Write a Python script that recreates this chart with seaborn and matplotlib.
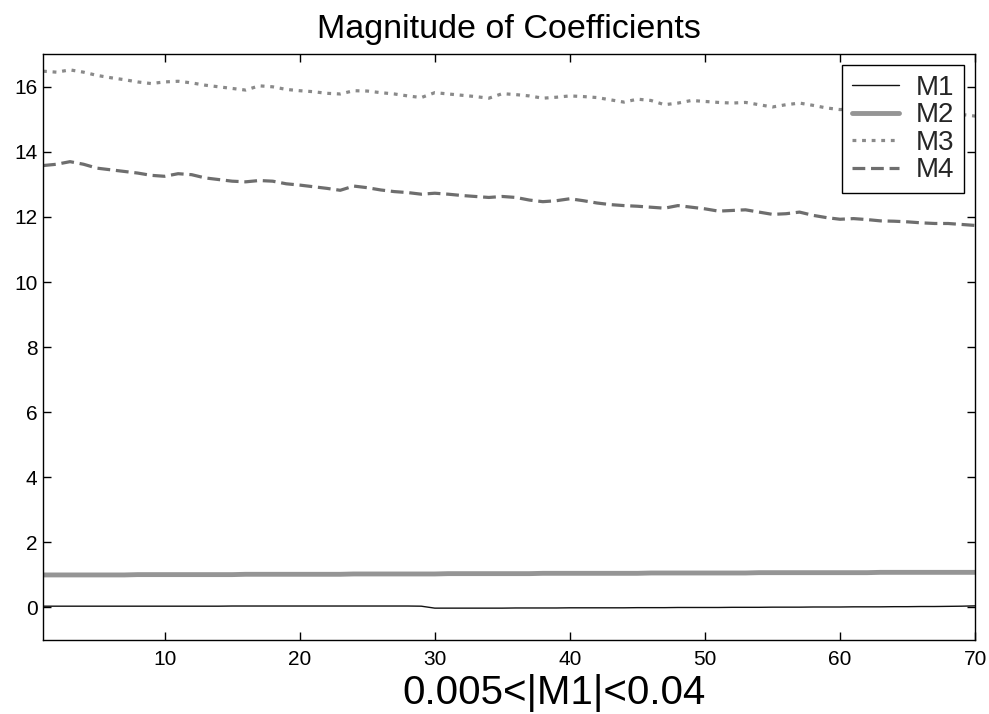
import numpy as np
import pandas as pd
import matplotlib
matplotlib.use("Agg")
import matplotlib.pyplot as plt
import seaborn as sns

x_vals = list(range(1, 71))

m1_vals = [0.04, 0.04, 0.04, 0.04, 0.04, 0.04, 0.04, 0.04, 0.04, 0.04,
           0.04, 0.04, 0.04, 0.04, 0.045, 0.045, 0.045, 0.045, 0.045, 0.045,
           0.045, 0.045, 0.045, 0.045, 0.045, 0.045, 0.045, 0.045, 0.04, -0.02,
           -0.02, -0.02, -0.02, -0.02, -0.02, -0.015, -0.015, -0.015, -0.015, -0.01,
           -0.01, -0.01, -0.01, -0.01, -0.005, -0.005, -0.005, 0.0, 0.0, 0.0,
           0.0, 0.005, 0.005, 0.005, 0.01, 0.01, 0.01, 0.015, 0.015, 0.015,
           0.02, 0.02, 0.02, 0.025, 0.025, 0.03, 0.03, 0.035, 0.04, 0.05]

m2_vals = [1.00, 1.00, 1.00, 1.00, 1.00, 1.00, 1.00, 1.01, 1.01, 1.01,
           1.01, 1.01, 1.01, 1.01, 1.01, 1.02, 1.02, 1.02, 1.02, 1.02,
           1.02, 1.02, 1.02, 1.03, 1.03, 1.03, 1.03, 1.03, 1.03, 1.03,
           1.04, 1.04, 1.04, 1.04, 1.04, 1.04, 1.04, 1.05, 1.05, 1.05,
           1.05, 1.05, 1.05, 1.05, 1.05, 1.06, 1.06, 1.06, 1.06, 1.06,
           1.06, 1.06, 1.06, 1.07, 1.07, 1.07, 1.07, 1.07, 1.07, 1.07,
           1.07, 1.07, 1.08, 1.08, 1.08, 1.08, 1.08, 1.08, 1.08, 1.08]

m3_vals = [16.48, 16.45, 16.52, 16.45, 16.35, 16.28, 16.22, 16.15, 16.10, 16.15,
           16.17, 16.12, 16.05, 16.00, 15.95, 15.90, 16.03, 16.00, 15.92, 15.88,
           15.85, 15.80, 15.78, 15.88, 15.87, 15.82, 15.78, 15.72, 15.67, 15.82,
           15.78, 15.74, 15.70, 15.65, 15.79, 15.76, 15.72, 15.65, 15.68, 15.72,
           15.70, 15.67, 15.60, 15.53, 15.62, 15.58, 15.45, 15.50, 15.58, 15.55,
           15.52, 15.50, 15.52, 15.45, 15.38, 15.45, 15.50, 15.43, 15.35, 15.30,
           15.33, 15.35, 15.30, 15.25, 15.22, 15.28, 15.25, 15.20, 15.15, 15.10]

m4_vals = [13.58, 13.62, 13.70, 13.62, 13.50, 13.45, 13.40, 13.35, 13.28, 13.25,
           13.33, 13.30, 13.20, 13.15, 13.10, 13.08, 13.12, 13.10, 13.02, 12.98,
           12.93, 12.88, 12.82, 12.95, 12.90, 12.83, 12.78, 12.75, 12.70, 12.73,
           12.70, 12.66, 12.63, 12.60, 12.63, 12.60, 12.52, 12.47, 12.50, 12.56,
           12.50, 12.43, 12.38, 12.35, 12.33, 12.30, 12.27, 12.35, 12.30, 12.25,
           12.18, 12.20, 12.22, 12.15, 12.08, 12.10, 12.15, 12.05, 11.98, 11.93,
           11.95, 11.92, 11.88, 11.87, 11.85, 11.82, 11.80, 11.80, 11.77, 11.74]

series_names = ["M1", "M2", "M3", "M4"]
x_ticks = [10, 20, 30, 40, 50, 60, 70]
y_ticks = [0, 2, 4, 6, 8, 10, 12, 14, 16]

df = pd.DataFrame({"x": x_vals, "M1": m1_vals, "M2": m2_vals,
                   "M3": m3_vals, "M4": m4_vals})
long = df.melt(id_vars="x", var_name="series", value_name="value")

sns.set_theme(style="white")
plt.rcParams["font.family"] = ["Liberation Sans", "DejaVu Sans"]

fig = plt.figure(figsize=(9.89, 7.14), dpi=100)
ax = fig.add_axes([0.0435, 0.1036, 0.9425, 0.8204])

styles = {
    "M1": dict(color="#111111", lw=1.0, ls="-"),
    "M2": dict(color="#959595", lw=3.5, ls="-"),
    "M3": dict(color="#8a8a8a", lw=2.3, ls=(0, (1.2, 1.8))),
    "M4": dict(color="#6e6e6e", lw=2.3, ls=(0, (4.0, 1.8))),
}
for name in series_names:
    sub = long[long["series"] == name]
    st = styles[name]
    sns.lineplot(data=sub, x="x", y="value", ax=ax, color=st["color"],
                 linewidth=st["lw"], linestyle=st["ls"], label=name,
                 estimator=None)

ax.set_xlim(1, 70)
ax.set_ylim(-1, 17)
ax.set_xticks(x_ticks)
ax.set_yticks(y_ticks)
ax.tick_params(axis="both", direction="in", length=6, width=1, color="black",
               labelsize=15, top=True, right=True, bottom=True, left=True,
               labelcolor="black", pad=7)
ax.tick_params(axis="y", pad=4)
for sp in ax.spines.values():
    sp.set_visible(True)
    sp.set_color("black")
    sp.set_linewidth(1.0)

ax.set_title("Magnitude of Coefficients", fontsize=24.5, color="black", pad=12)
ax.set_xlabel("0.005<|M1|<0.04", fontsize=29, color="black")
ax.xaxis.set_label_coords(0.548, -0.058, transform=ax.transAxes)
ax.xaxis.label.set_va("top")
ax.set_ylabel("")

leg = ax.legend(loc="upper right", fontsize=20, frameon=True, fancybox=False,
                edgecolor="black", framealpha=1.0, handlelength=1.7,
                borderaxespad=0.4, labelspacing=0.05, handletextpad=0.6,
                borderpad=0.35)
leg.get_frame().set_linewidth(1.0)

fig.savefig("out.png", dpi=100)
